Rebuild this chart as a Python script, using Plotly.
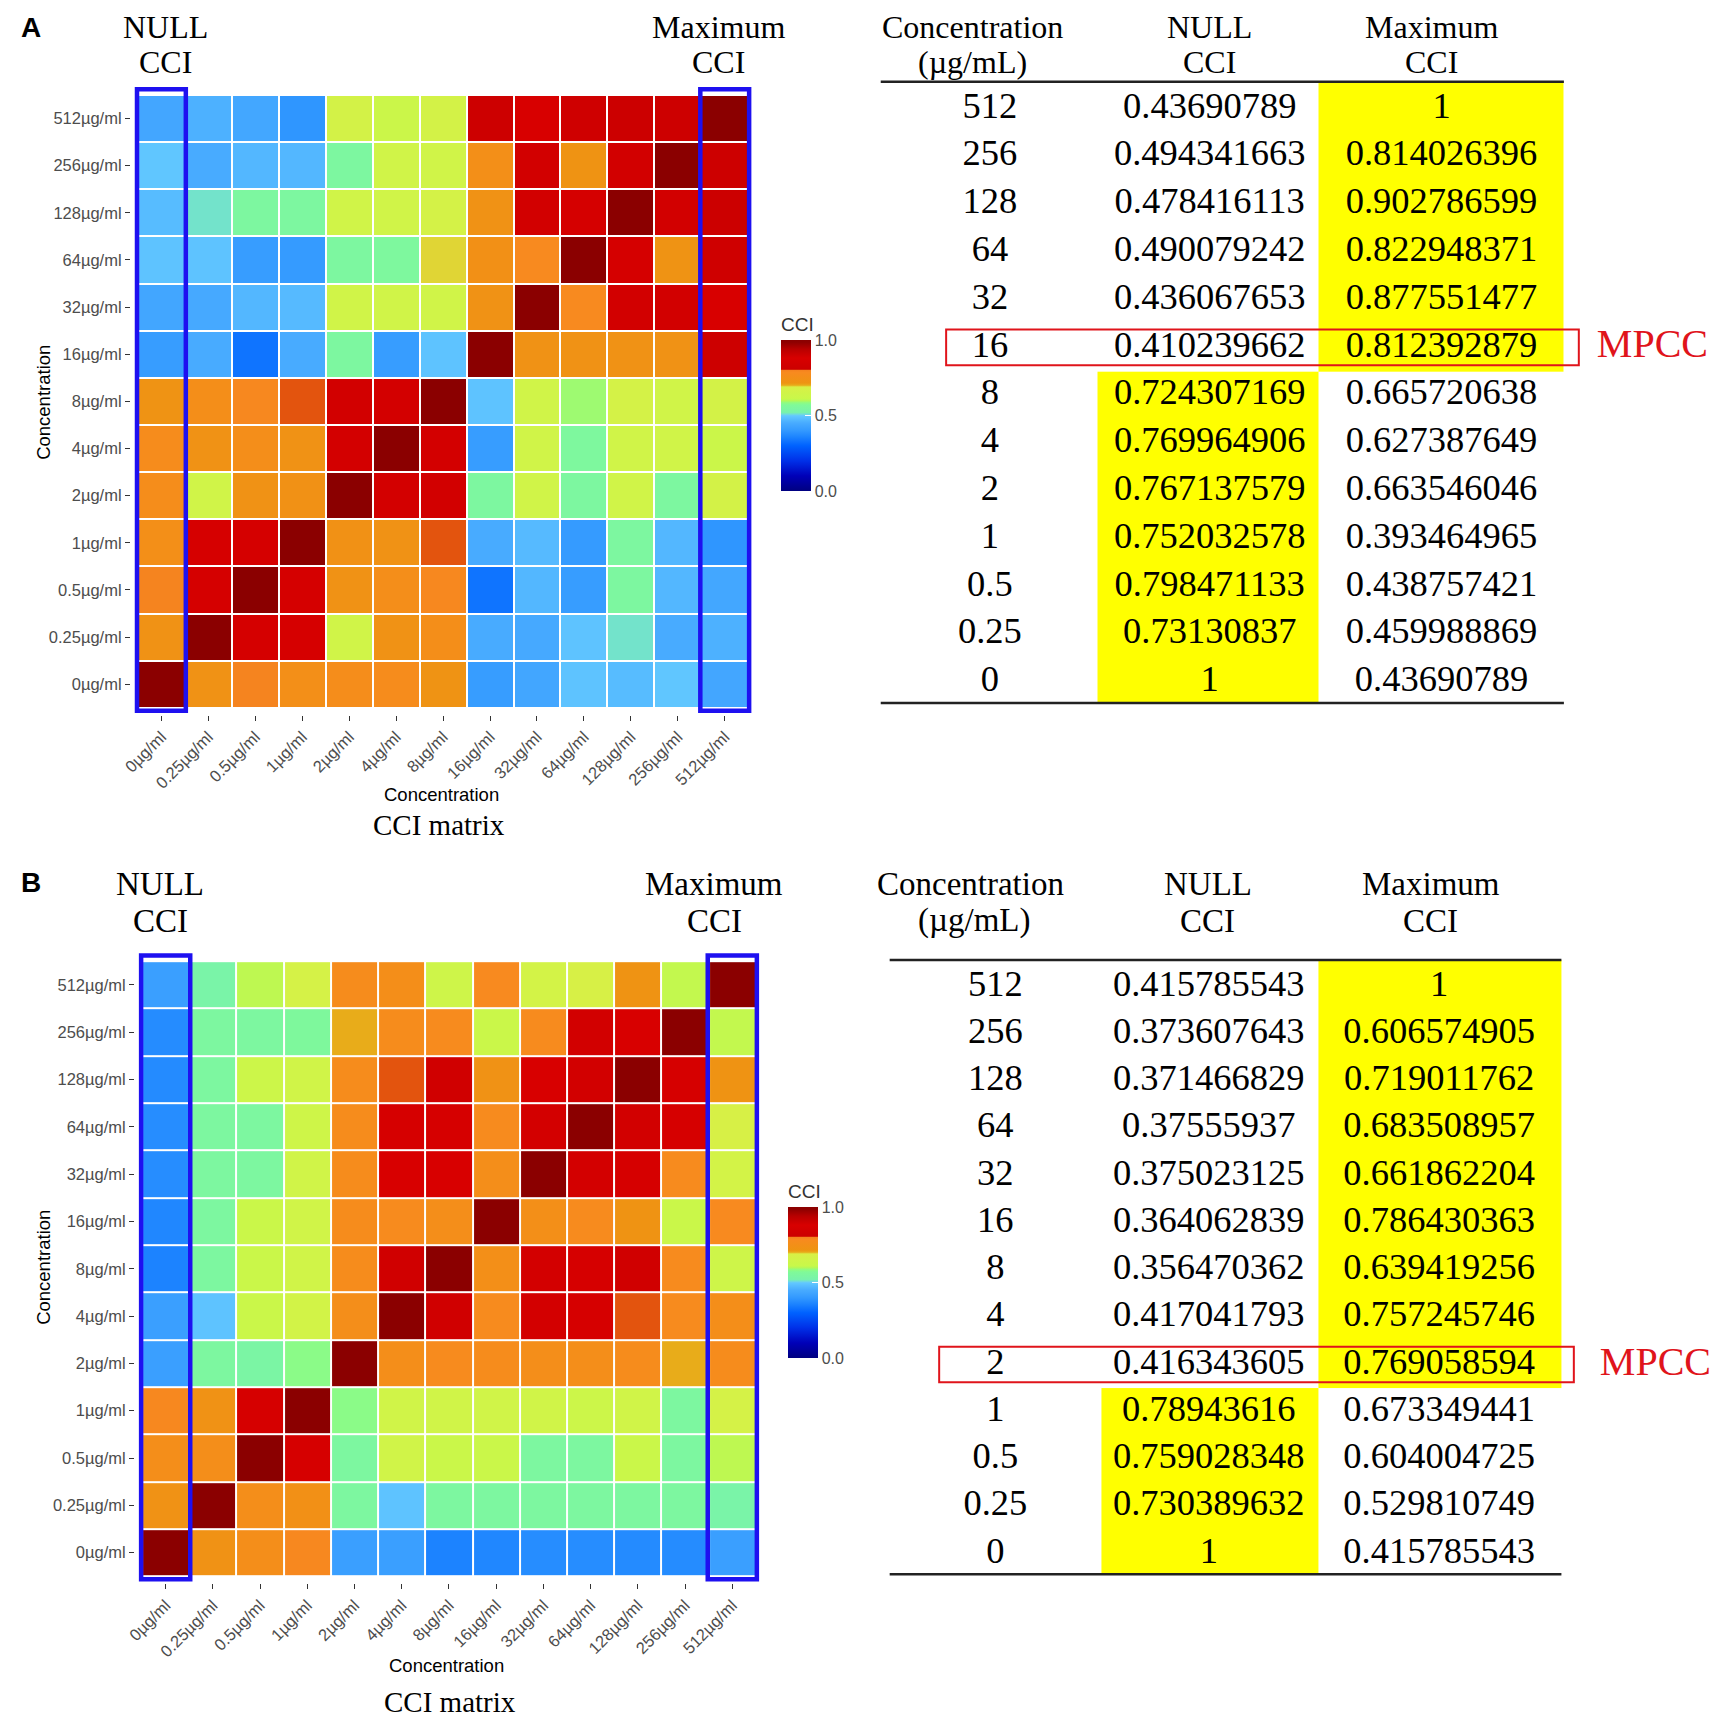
import plotly.graph_objects as go

W, H = 1727, 1715

# ---------------- data ----------------
conc = [0, 0.25, 0.5, 1, 2, 4, 8, 16, 32, 64, 128, 256, 512]
conc_labels = [f"{c:g}µg/ml" for c in conc]
rows_top_down = conc_labels[::-1]
table_conc = [f"{c:g}" for c in conc[::-1]]

# CCI matrices, rows top (512) to bottom (0), columns 0 -> 512
cci_A = [
    [0.437, 0.460, 0.439, 0.393, 0.664, 0.627, 0.666, 0.812, 0.878, 0.823, 0.903, 0.814, 1.0],
    [0.494, 0.450, 0.470, 0.470, 0.550, 0.650, 0.650, 0.750, 0.840, 0.720, 0.840, 1.0, 0.814],
    [0.478, 0.512, 0.550, 0.550, 0.650, 0.650, 0.670, 0.730, 0.840, 0.860, 1.0, 0.840, 0.903],
    [0.490, 0.490, 0.410, 0.405, 0.550, 0.555, 0.694, 0.740, 0.785, 1.0, 0.860, 0.725, 0.823],
    [0.436, 0.445, 0.470, 0.475, 0.650, 0.650, 0.650, 0.730, 1.0, 0.785, 0.840, 0.840, 0.878],
    [0.410, 0.450, 0.330, 0.450, 0.550, 0.410, 0.490, 1.0, 0.730, 0.730, 0.730, 0.730, 0.812],
    [0.724, 0.755, 0.790, 0.802, 0.840, 0.850, 1.0, 0.490, 0.650, 0.590, 0.670, 0.650, 0.666],
    [0.770, 0.730, 0.760, 0.730, 0.850, 1.0, 0.850, 0.410, 0.650, 0.555, 0.650, 0.650, 0.627],
    [0.767, 0.650, 0.730, 0.735, 1.0, 0.850, 0.840, 0.550, 0.650, 0.550, 0.650, 0.550, 0.664],
    [0.752, 0.870, 0.860, 1.0, 0.735, 0.730, 0.802, 0.450, 0.475, 0.405, 0.550, 0.470, 0.393],
    [0.798, 0.860, 1.0, 0.860, 0.730, 0.760, 0.790, 0.330, 0.470, 0.410, 0.550, 0.470, 0.439],
    [0.731, 1.0, 0.860, 0.870, 0.650, 0.730, 0.755, 0.450, 0.445, 0.490, 0.512, 0.450, 0.460],
    [1.0, 0.731, 0.798, 0.752, 0.767, 0.770, 0.724, 0.410, 0.436, 0.490, 0.478, 0.494, 0.437],
]
cci_B = [
    [0.416, 0.530, 0.604, 0.673, 0.769, 0.757, 0.639, 0.786, 0.662, 0.684, 0.719, 0.607, 1.0],
    [0.374, 0.550, 0.550, 0.560, 0.700, 0.770, 0.780, 0.620, 0.780, 0.840, 0.880, 1.0, 0.607],
    [0.371, 0.550, 0.630, 0.650, 0.770, 0.802, 0.830, 0.730, 0.880, 0.840, 1.0, 0.870, 0.719],
    [0.376, 0.550, 0.550, 0.640, 0.770, 0.870, 0.870, 0.780, 0.890, 1.0, 0.840, 0.870, 0.684],
    [0.375, 0.550, 0.550, 0.650, 0.770, 0.880, 0.880, 0.760, 1.0, 0.890, 0.870, 0.780, 0.662],
    [0.364, 0.550, 0.620, 0.650, 0.770, 0.780, 0.760, 1.0, 0.750, 0.780, 0.720, 0.620, 0.786],
    [0.356, 0.550, 0.620, 0.650, 0.770, 0.830, 1.0, 0.750, 0.890, 0.870, 0.830, 0.780, 0.639],
    [0.417, 0.490, 0.620, 0.660, 0.760, 1.0, 0.830, 0.780, 0.890, 0.870, 0.802, 0.780, 0.757],
    [0.416, 0.550, 0.540, 0.580, 1.0, 0.760, 0.780, 0.770, 0.760, 0.760, 0.770, 0.700, 0.769],
    [0.789, 0.730, 0.870, 1.0, 0.580, 0.650, 0.650, 0.650, 0.650, 0.630, 0.650, 0.550, 0.673],
    [0.759, 0.760, 1.0, 0.870, 0.550, 0.650, 0.620, 0.620, 0.550, 0.550, 0.620, 0.550, 0.604],
    [0.730, 1.0, 0.760, 0.740, 0.550, 0.490, 0.550, 0.550, 0.550, 0.550, 0.550, 0.550, 0.530],
    [1.0, 0.730, 0.759, 0.789, 0.416, 0.417, 0.356, 0.364, 0.375, 0.376, 0.371, 0.374, 0.416],
]

# Table values, rows top (512) to bottom (0)
null_A = [0.43690789, 0.494341663, 0.478416113, 0.490079242, 0.436067653, 0.410239662,
          0.724307169, 0.769964906, 0.767137579, 0.752032578, 0.798471133, 0.73130837, 1]
max_A = [1, 0.814026396, 0.902786599, 0.822948371, 0.877551477, 0.812392879,
         0.665720638, 0.627387649, 0.663546046, 0.393464965, 0.438757421, 0.459988869, 0.43690789]
null_B = [0.415785543, 0.373607643, 0.371466829, 0.37555937, 0.375023125, 0.364062839,
          0.356470362, 0.417041793, 0.416343605, 0.78943616, 0.759028348, 0.730389632, 1]
max_B = [1, 0.606574905, 0.719011762, 0.683508957, 0.661862204, 0.786430363,
         0.639419256, 0.757245746, 0.769058594, 0.673349441, 0.604004725, 0.529810749, 0.415785543]
mpcc_A = "16"
mpcc_B = "2"

# ---------------- styling ----------------
cci_scale = [
    [0.000, "#000080"], [0.100, "#0000B8"], [0.200, "#0030E8"], [0.300, "#0062FF"],
    [0.360, "#1E85FF"], [0.400, "#3399FF"], [0.450, "#48ABFF"], [0.498, "#62C8FF"],
    [0.505, "#6ED6E6"], [0.520, "#78F2AC"], [0.570, "#80FA98"], [0.585, "#90FC80"],
    [0.598, "#B4F858"], [0.610, "#C8F84A"], [0.688, "#D8F046"], [0.694, "#E0D535"],
    [0.700, "#E8AC1A"], [0.715, "#EE9412"], [0.750, "#F38F18"], [0.785, "#F88A1F"],
    [0.799, "#F5831F"], [0.8015, "#E65E10"], [0.806, "#CC0000"], [0.880, "#D80000"],
    [0.940, "#B80000"], [0.985, "#8E0000"], [1.000, "#8B0000"],
]
SANS = "Liberation Sans"
SERIF = "Liberation Serif"
GREY = "#4D4D4D"
BLUE = "#1E10F0"
RED = "#E0141B"


def px(x):
    return x / W


def py(y):
    return 1 - y / H


fig = go.Figure()

# panel geometry (pixels)
panels = [
    dict(z=cci_A, xd=(114.5, 742.1), yd=(75.2, 706.9), cb_x=768, cb_bot=483, cb_len=150,
         xa="x", ya="y"),
    dict(z=cci_B, xd=(118.6, 749.9), yd=(941.3, 1575.4), cb_x=775, cb_bot=1350, cb_len=150,
         xa="x2", ya="y2"),
]
CB_TITLE_H = 27

for i, p in enumerate(panels):
    fig.add_trace(go.Heatmap(
        z=p["z"], x=conc_labels, y=rows_top_down, zmin=0, zmax=1,
        colorscale=cci_scale, xgap=2, ygap=2, xaxis=p["xa"], yaxis=p["ya"],
        hoverinfo="skip",
        colorbar=dict(
            x=px(p["cb_x"]), xanchor="left", thickness=30, thicknessmode="pixels",
            len=(p["cb_len"] + CB_TITLE_H) / H, lenmode="fraction",
            y=py(p["cb_bot"]), yanchor="bottom",
            xpad=0, ypad=0, outlinewidth=0,
            tickvals=[0, 0.5, 1], ticktext=["0.0", "0.5", "1.0"],
            ticks="inside", tickcolor="white", ticklen=6,
            tickfont=dict(family=SANS, size=16, color=GREY),
            title=dict(text="CCI", side="top", font=dict(family=SANS, size=19, color="#333333")),
        ),
    ))
    sfx = "" if i == 0 else "2"
    fig.update_layout(**{
        "xaxis" + sfx: dict(domain=[px(p["xd"][0]), px(p["xd"][1])], anchor="y" + sfx,
                            type="category", range=[-0.65, 12.65], showgrid=False,
                            zeroline=False, showline=False, ticks="outside", ticklen=5,
                            tickcolor="#333333", tickangle=-45,
                            tickfont=dict(family=SANS, size=16.5, color=GREY)),
        "yaxis" + sfx: dict(domain=[py(p["yd"][1]), py(p["yd"][0])], anchor="x" + sfx,
                            type="category", range=[12.65, -0.75], showgrid=False,
                            zeroline=False, showline=False, ticks="outside", ticklen=5,
                            tickcolor="#333333",
                            tickfont=dict(family=SANS, size=16.5, color=GREY)),
    })
    for c in (0, len(conc) - 1):
        fig.add_shape(type="rect", xref=p["xa"], yref=p["ya"], x0=c - 0.52, x1=c + 0.52,
                      y0=-0.62, y1=12.56, line=dict(color=BLUE, width=4.5),
                      fillcolor="rgba(0,0,0,0)", layer="above")

# ---------------- tables ----------------
tables = [
    dict(null=null_A, mx=max_A, mpcc=mpcc_A, x0=868, edges=[0, 218.5, 440, 687],
         centers=[110, 331, 564], ytop=100.4, dy=47.8, box=(66, 702), mp_x=776,
         xr=859, xa="x3", ya="y3"),
    dict(null=null_B, mx=max_B, mpcc=mpcc_B, x0=877, edges=[0, 213, 431, 675.5],
         centers=[106.5, 321, 552.6], ytop=978.5, dy=47.25, box=(50, 688), mp_x=770,
         xr=850, xa="x4", ya="y4"),
]
RULE_TOP, RULE_BOT = -0.56, 12.44

for t in tables:
    n = len(t["null"])
    rows = list(range(n))
    y_edges = [RULE_TOP] + [k + 0.5 for k in range(n - 1)] + [RULE_BOT]
    flags = [[0, 1 if a > b else 0, 1 if b >= a else 0] for a, b in zip(t["null"], t["mx"])]
    fig.add_trace(go.Heatmap(
        z=flags, x=t["edges"], y=y_edges, zmin=0, zmax=1, showscale=False,
        colorscale=[[0, "rgba(255,255,255,0)"], [1, "#FFFF00"]],
        xaxis=t["xa"], yaxis=t["ya"], hoverinfo="skip"))
    cols = [table_conc, [f"{v:.10g}" for v in t["null"]], [f"{v:.10g}" for v in t["mx"]]]
    for cx, txt in zip(t["centers"], cols):
        fig.add_trace(go.Scatter(
            x=[cx] * n, y=rows, text=txt, mode="text", xaxis=t["xa"], yaxis=t["ya"],
            textfont=dict(family=SERIF, size=36.5, color="black"), cliponaxis=False,
            hoverinfo="skip", showlegend=False))
    r = table_conc.index(t["mpcc"])
    fig.add_trace(go.Scatter(
        x=[t["mp_x"]], y=[r], text=["MPCC"], mode="text", xaxis=t["xa"], yaxis=t["ya"],
        textfont=dict(family=SERIF, size=40, color=RED), cliponaxis=False,
        hoverinfo="skip", showlegend=False))
    sfx = t["xa"][1:]
    top = t["ytop"] - 0.7 * t["dy"]
    bot = t["ytop"] + (n - 1 + 0.7) * t["dy"]
    fig.update_layout(**{
        "xaxis" + sfx: dict(domain=[px(t["x0"]), px(t["x0"] + t["xr"])], range=[0, t["xr"]],
                            anchor="y" + sfx, visible=False),
        "yaxis" + sfx: dict(domain=[py(bot), py(top)], range=[n - 1 + 0.7, -0.7],
                            anchor="x" + sfx, visible=False),
    })
    for yy in (RULE_TOP, RULE_BOT):
        fig.add_shape(type="line", xref=t["xa"], yref=t["ya"], x0=0, x1=t["edges"][-1],
                      y0=yy, y1=yy, line=dict(color="#222222", width=2.5))
    fig.add_shape(type="rect", xref=t["xa"], yref=t["ya"], x0=t["box"][0], x1=t["box"][1],
                  y0=r - 0.375, y1=r + 0.375, line=dict(color=RED, width=2),
                  fillcolor="rgba(0,0,0,0)", layer="above")

# ---------------- text annotations ----------------
ann = []


def add_text(x, y, text, size, family=SERIF, color="black", bold=False, angle=0):
    ann.append(dict(x=px(x), y=py(y), xref="paper", yref="paper",
                    text=f"<b>{text}</b>" if bold else text,
                    showarrow=False, xanchor="center", yanchor="middle", textangle=angle,
                    font=dict(family=family, size=size, color=color)))


TOP1, TOP2 = 19, 54.5
# panel A
add_text(14, 20, "A", 28, family=SANS, bold=True)
add_text(149, TOP1, "NULL", 32); add_text(149, TOP2, "CCI", 32)
add_text(705, TOP1, "Maximum", 32); add_text(705, TOP2, "CCI", 32)
add_text(961, TOP1, "Concentration", 32); add_text(961, TOP2, "(µg/mL)", 32)
add_text(1199, TOP1, "NULL", 32); add_text(1199, TOP2, "CCI", 32)
add_text(1422, TOP1, "Maximum", 32); add_text(1422, TOP2, "CCI", 32)
add_text(427, 786, "Concentration", 18.5, family=SANS)
add_text(26, 394, "Concentration", 18.5, family=SANS, angle=-90)
add_text(424, 817, "CCI matrix", 29)
# panel B
add_text(14, 874, "B", 28, family=SANS, bold=True)
add_text(144, 876, "NULL", 33); add_text(144, 913, "CCI", 33)
add_text(701, 876, "Maximum", 33); add_text(701, 913, "CCI", 33)
add_text(958, 876, "Concentration", 33); add_text(963, 913, "(µg/mL)", 33)
add_text(1197, 876, "NULL", 33); add_text(1197, 913, "CCI", 33)
add_text(1421, 876, "Maximum", 33); add_text(1421, 913, "CCI", 33)
add_text(432, 1657, "Concentration", 18.5, family=SANS)
add_text(26, 1259, "Concentration", 18.5, family=SANS, angle=-90)
add_text(435, 1694, "CCI matrix", 29)

fig.update_layout(width=W, height=H, margin=dict(l=0, r=0, t=0, b=0),
                  paper_bgcolor="white", plot_bgcolor="white", showlegend=False,
                  annotations=ann)

fig.write_html("out.html")
